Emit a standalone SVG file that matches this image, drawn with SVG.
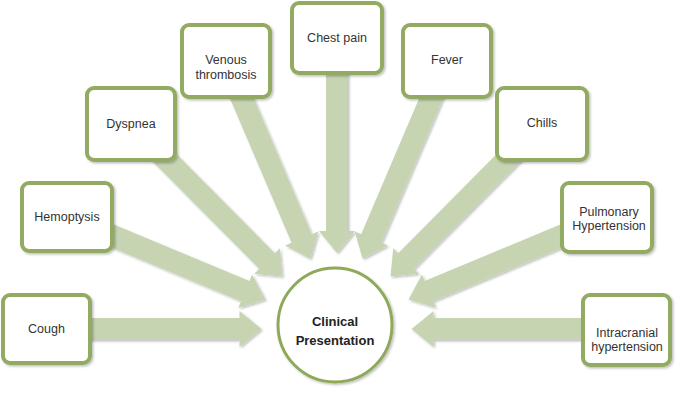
<svg xmlns="http://www.w3.org/2000/svg" width="680" height="413" viewBox="0 0 680 413">
<style>
.box{fill:#ffffff;stroke:#93aa62;stroke-width:4}
.lbl{font-family:"Liberation Sans",Arial,sans-serif;font-size:12.5px;fill:#333333;text-anchor:middle}
.big{font-family:"Liberation Sans",Arial,sans-serif;font-size:13px;font-weight:bold;fill:#222222;text-anchor:middle}
.arr{fill:#c6d4b1}
</style>
<defs>
<filter id="sh" x="-20%" y="-20%" width="140%" height="140%">
<feDropShadow dx="1.5" dy="1.5" stdDeviation="1.2" flood-color="#000000" flood-opacity="0.25"/>
</filter>
<path id="ar" d="M0,-11 L193,-11 L193,-18 L215,0 L193,18 L193,11 L0,11 Z"/>
</defs>
<rect width="680" height="413" fill="#ffffff"/>
<g id="connectors" class="arr" filter="url(#sh)">
<use href="#ar" transform="translate(46.5,329) rotate(0)"/>
<use href="#ar" transform="translate(67,217) rotate(22.6)"/>
<use href="#ar" transform="translate(131,124) rotate(45.2)"/>
<use href="#ar" transform="translate(226,61) rotate(66.9)"/>
<use href="#ar" transform="translate(337,38) rotate(90)"/>
<use href="#ar" transform="translate(447,61) rotate(113.1)"/>
<use href="#ar" transform="translate(542,124) rotate(134.8)"/>
<use href="#ar" transform="translate(607,217) rotate(157.4)"/>
<use href="#ar" transform="translate(626.5,329) rotate(180)"/>
</g>
<g id="center">
<circle cx="335" cy="325" r="57" fill="#ffffff" stroke="#8fa95a" stroke-width="3" filter="url(#sh)"/>
<text class="big" x="335" y="326">Clinical</text>
<text class="big" x="335" y="345">Presentation</text>
</g>
<g id="cough">
<rect class="box" x="3" y="295" width="87" height="68" rx="7" filter="url(#sh)"/>
<text class="lbl" x="46.5" y="333">Cough</text>
</g>
<g id="hemoptysis">
<rect class="box" x="22" y="183" width="90" height="68" rx="7" filter="url(#sh)"/>
<text class="lbl" x="67" y="221">Hemoptysis</text>
</g>
<g id="dyspnea">
<rect class="box" x="87" y="88" width="88" height="72" rx="7" filter="url(#sh)"/>
<text class="lbl" x="131" y="128">Dyspnea</text>
</g>
<g id="venous">
<rect class="box" x="182" y="25" width="88" height="72" rx="7" filter="url(#sh)"/>
<text class="lbl" x="226" y="64">Venous</text>
<text class="lbl" x="226" y="79">thrombosis</text>
</g>
<g id="chestpain">
<rect class="box" x="292" y="3" width="90" height="70" rx="7" filter="url(#sh)"/>
<text class="lbl" x="337" y="42">Chest pain</text>
</g>
<g id="fever">
<rect class="box" x="403" y="25" width="88" height="72" rx="7" filter="url(#sh)"/>
<text class="lbl" x="447" y="64">Fever</text>
</g>
<g id="chills">
<rect class="box" x="497" y="88" width="90" height="72" rx="7" filter="url(#sh)"/>
<text class="lbl" x="542" y="127">Chills</text>
</g>
<g id="pulmonary">
<rect class="box" x="562" y="183" width="90" height="69" rx="7" filter="url(#sh)"/>
<text class="lbl" x="609" y="216">Pulmonary</text>
<text class="lbl" x="609" y="230">Hypertension</text>
</g>
<g id="intracranial">
<rect class="box" x="583" y="295" width="87" height="70" rx="7" filter="url(#sh)"/>
<text class="lbl" x="627" y="337">Intracranial</text>
<text class="lbl" x="627" y="351">hypertension</text>
</g>
</svg>
